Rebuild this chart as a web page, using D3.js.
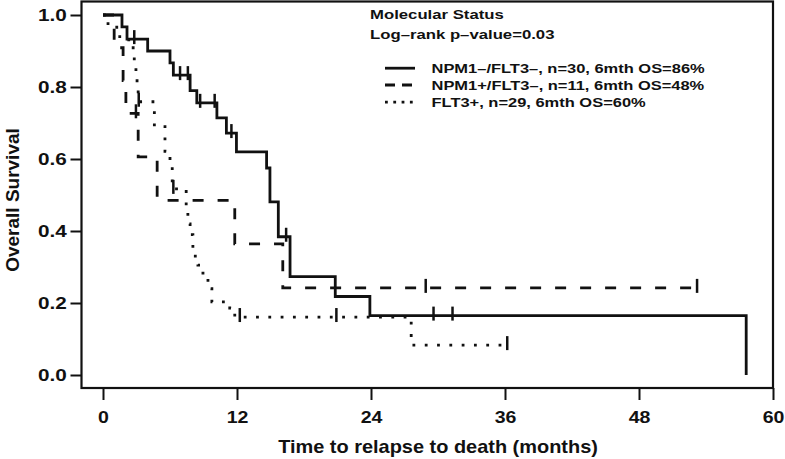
<!DOCTYPE html>
<html>
<head>
<meta charset="utf-8">
<script src="https://cdn.jsdelivr.net/npm/d3@7"></script>
<style>
  body { margin: 0; background: #fff; }
  text { font-family: "Liberation Sans", Arial, sans-serif; font-weight: bold; fill: #111; }
</style>
</head>
<body>
<div id="my_dataviz"></div>
<script>
// tick labels
var timeTicks = [0, 12, 24, 36, 48, 60];
var survTicks = [0, 0.2, 0.4, 0.6, 0.8, 1.0];

// NPM1-/FLT3- (solid): step times, survival after each step, censor times
var solidTime = [0, 1.7, 2.15, 4.0, 6.0, 6.3, 7.8, 8.4, 10.2, 11.05, 11.95, 14.65, 14.95, 15.7, 16.75, 20.8, 23.9, 57.6];
var solidSurv = [1, 0.967, 0.933, 0.9, 0.867, 0.833, 0.79, 0.756, 0.714, 0.672, 0.62, 0.575, 0.481, 0.384, 0.273, 0.218, 0.165, 0];
var solidCensor = [2.8, 6.9, 7.6, 8.7, 10.0, 11.5, 16.4, 29.6, 31.3];

// NPM1+/FLT3- (dashed)
var dashTime = [0, 1.0, 1.8, 2.05, 3.15, 4.85, 11.8, 16.1];
var dashSurv = [1, 0.909, 0.818, 0.727, 0.606, 0.485, 0.364, 0.242];
var dashCensor = [2.95, 28.9, 53.2];

// FLT3+ (dotted)
var dotTime = [0, 0.45, 1.5, 2.7, 2.8, 2.95, 3.05, 3.15, 4.6, 5.55, 6.0, 6.2, 7.45, 7.6, 7.8, 8.05, 8.5, 8.95, 9.4, 9.75, 11.35, 11.8, 27.6];
var dotSurv = [1, 0.966, 0.931, 0.897, 0.862, 0.828, 0.793, 0.759, 0.69, 0.621, 0.586, 0.517, 0.45, 0.42, 0.39, 0.33, 0.305, 0.283, 0.24, 0.203, 0.186, 0.161, 0.083];
var dotCensor = [3.2, 6.3, 12.25, 20.9, 36.2];

var legendTitle = ["Molecular Status", "Log\u2013rank p\u2013value=0.03"];
var legendLabels = ["NPM1\u2013/FLT3\u2013, n=30, 6mth OS=86%",
                    "NPM1+/FLT3\u2013, n=11, 6mth OS=48%",
                    "FLT3+, n=29, 6mth OS=60%"];

var series = [
  {time: solidTime, surv: solidSurv, censor: solidCensor, dash: null, legDash: null},
  {time: dashTime, surv: dashSurv, censor: dashCensor, dash: "11,14", legDash: "10,7"},
  {time: dotTime, surv: dotSurv, censor: dotCensor, dash: "2.8,9.5", legDash: "2.8,5.5"}
];

var W = 785, H = 459;
var svg = d3.select("#my_dataviz")
  .append("svg")
    .attr("width", W)
    .attr("height", H);

var xScale = d3.scaleLinear().domain([0, 60]).range([103, 773]);
var yScale = d3.scaleLinear().domain([0, 1]).range([375, 15]);

// helper: text stretched a bit horizontally like the original figure
function stretchText(g, x, y, str, size, anchor, sx) {
  return g.append("text")
    .attr("transform", "translate(" + x + "," + y + ") scale(" + sx + ",1)")
    .attr("text-anchor", anchor)
    .style("font-size", size + "px")
    .text(str);
}

// box
svg.append("rect")
  .attr("x", 81.5).attr("y", 1.5)
  .attr("width", 773 - 81.5).attr("height", 388 - 1.5)
  .attr("fill", "none").attr("stroke", "#111").attr("stroke-width", 2.2);

// x axis
var gx = svg.append("g")
  .attr("transform", "translate(0,388)")
  .call(d3.axisBottom(xScale).tickValues(timeTicks).tickSize(12).tickFormat(d3.format("d")));
gx.select(".domain").remove();
gx.selectAll("line").attr("stroke", "#111").attr("stroke-width", 2);
gx.selectAll("text")
  .attr("y", 35.5).attr("dy", null)
  .attr("transform", "scale(1.15,1)")
  .style("font-size", "17px").style("font-family", null);

// y axis
var gy = svg.append("g")
  .attr("transform", "translate(81.5,0)")
  .call(d3.axisLeft(yScale).tickValues(survTicks).tickSize(11).tickPadding(1).tickFormat(d3.format(".1f")));
gy.select(".domain").remove();
gy.selectAll("line").attr("stroke", "#111").attr("stroke-width", 2);
gy.selectAll("text")
  .attr("transform", "scale(1.22,1)")
  .style("font-size", "17px").style("font-family", null);

// axis titles
stretchText(svg, 438, 453, "Time to relapse to death (months)", 17.5, "middle", 1.14);
svg.append("text")
  .attr("transform", "translate(19,200) rotate(-90)")
  .attr("text-anchor", "middle")
  .style("font-size", "19px")
  .text("Overall Survival");

// survival at time t (step function)
function survAt(s, t) {
  var v = s.surv[0];
  s.time.forEach(function(tt, i) { if (tt <= t) v = s.surv[i]; });
  return v;
}

var line = d3.line()
  .x(function(d) { return xScale(d[0]); })
  .y(function(d) { return yScale(d[1]); })
  .curve(d3.curveStepAfter);

series.forEach(function(s) {
  var pts = s.time.map(function(t, i) { return [t, s.surv[i]]; });
  var tEnd = d3.max([d3.max(s.time), d3.max(s.censor)]);
  if (tEnd > s.time[s.time.length - 1]) pts.push([tEnd, s.surv[s.surv.length - 1]]);

  svg.append("path")
    .datum(pts)
    .attr("d", line)
    .attr("fill", "none")
    .attr("stroke", "#111")
    .attr("stroke-width", 2.8)
    .attr("stroke-dasharray", s.dash);

  // censor ticks
  svg.selectAll(null)
    .data(s.censor)
    .enter()
    .append("line")
      .attr("x1", function(d) { return xScale(d); })
      .attr("x2", function(d) { return xScale(d); })
      .attr("y1", function(d) { return yScale(survAt(s, d)) - 9; })
      .attr("y2", function(d) { return yScale(survAt(s, d)) + 5; })
      .attr("stroke", "#111")
      .attr("stroke-width", 2.5);
});

// legend
var lg = svg.append("g");
stretchText(lg, 370, 19.3, legendTitle[0], 13.5, "start", 1.24);
stretchText(lg, 370, 39.3, legendTitle[1], 13.5, "start", 1.24);
var legendBase = [72.7, 89.5, 106.7];
legendLabels.forEach(function(lab, i) {
  lg.append("line")
    .attr("x1", 385).attr("x2", 415)
    .attr("y1", legendBase[i] - 4.5).attr("y2", legendBase[i] - 4.5)
    .attr("stroke", "#111")
    .attr("stroke-width", 2.8)
    .attr("stroke-dasharray", series[i].legDash);
  stretchText(lg, 431.5, legendBase[i], lab, 13.5, "start", 1.22);
});
</script>
</body>
</html>
